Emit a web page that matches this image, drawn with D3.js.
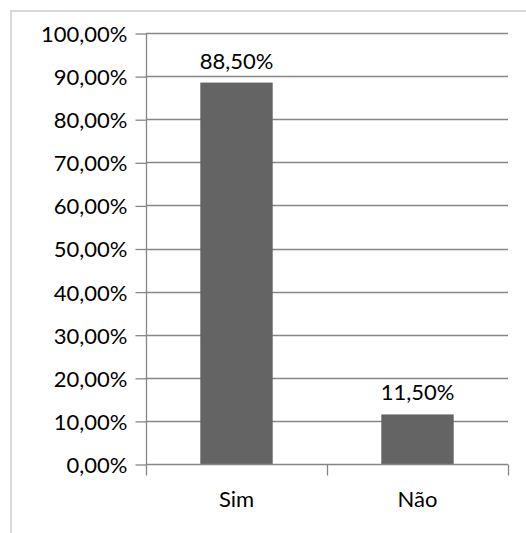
<!DOCTYPE html>
<html>
<head>
<meta charset="utf-8">
<script src="https://cdn.jsdelivr.net/npm/d3@7"></script>
<style>
  html, body { margin: 0; padding: 0; background: #fff; }
  svg { display: block; }
  text { font-family: Lato, "Open Sans", sans-serif; fill: #000; }
</style>
</head>
<body>
<svg id="chart" width="526" height="533"></svg>
<script>
const categories = ["Sim", "Não"];
const values = [88.5, 11.5];
const yTicks = [0, 10, 20, 30, 40, 50, 60, 70, 80, 90, 100];

const fmt = v => v.toFixed(2).replace(".", ",") + "%";

const svg = d3.select("#chart");
const pLeft = 146, pRight = 508, pTop = 33, pBottom = 464;
const fs = "22px";

// outer border (top and left visible, rest cropped)
svg.append("rect")
  .attr("x", 11).attr("y", 11)
  .attr("width", 560).attr("height", 560)
  .attr("fill", "none")
  .attr("stroke", "#d9d9d9")
  .attr("stroke-width", 2);

const x = d3.scaleBand().domain(categories).range([pLeft, pRight]).paddingInner(0).paddingOuter(0);
const y = d3.scaleLinear().domain([0, 100]).range([pBottom, pTop]);

// gridlines
svg.append("g").selectAll("line").data(yTicks.filter(d => d > 0)).join("line")
  .attr("x1", pLeft).attr("x2", pRight)
  .attr("y1", d => Math.round(y(d)) + 0.5).attr("y2", d => Math.round(y(d)) + 0.5)
  .attr("stroke", "#868686").attr("stroke-width", 1.3);

// bars
const bw = x.bandwidth() * 0.4;
svg.append("g").selectAll("rect").data(categories).join("rect")
  .attr("x", (d) => x(d) + (x.bandwidth() - bw) / 2)
  .attr("width", bw)
  .attr("y", (d, i) => y(values[i]))
  .attr("height", (d, i) => y(0) - y(values[i]))
  .attr("fill", "#646464");

// y axis
const yAxis = d3.axisLeft(y).tickValues(yTicks).tickFormat(fmt).tickSize(11).tickPadding(8);
const gy = svg.append("g").attr("transform", `translate(${pLeft + 0.5},0.5)`).call(yAxis);
gy.select(".domain").attr("stroke", "#868686").attr("stroke-width", 1.3).attr("d", `M0,${pTop}V${pBottom}`);
gy.selectAll(".tick line").attr("stroke", "#868686").attr("stroke-width", 1.3);
gy.selectAll(".tick text").style("font-size", fs).style("font-family", "Lato").attr("fill", "#000").attr("dy", "0.36em");

// x axis
const gx = svg.append("g").attr("transform", `translate(0,${pBottom + 0.5})`);
gx.append("line").attr("x1", pLeft).attr("x2", pRight).attr("y1", 0).attr("y2", 0)
  .attr("stroke", "#868686").attr("stroke-width", 1.3);
const bounds = [pLeft, pLeft + x.bandwidth(), pRight];
gx.selectAll("line.sep").data(bounds).join("line").attr("class", "sep")
  .attr("x1", d => d + 0.5).attr("x2", d => d + 0.5).attr("y1", 0).attr("y2", 11)
  .attr("stroke", "#868686").attr("stroke-width", 1.3);
gx.selectAll("text.cat").data(categories).join("text").attr("class", "cat")
  .attr("x", d => x(d) + x.bandwidth() / 2)
  .attr("y", 42)
  .attr("text-anchor", "middle")
  .style("font-size", fs)
  .text(d => d);

// value labels
svg.append("g").selectAll("text").data(categories).join("text")
  .attr("x", d => x(d) + x.bandwidth() / 2)
  .attr("y", (d, i) => y(values[i]) - 14)
  .attr("text-anchor", "middle")
  .style("font-size", fs)
  .text((d, i) => fmt(values[i]));
</script>
</body>
</html>
